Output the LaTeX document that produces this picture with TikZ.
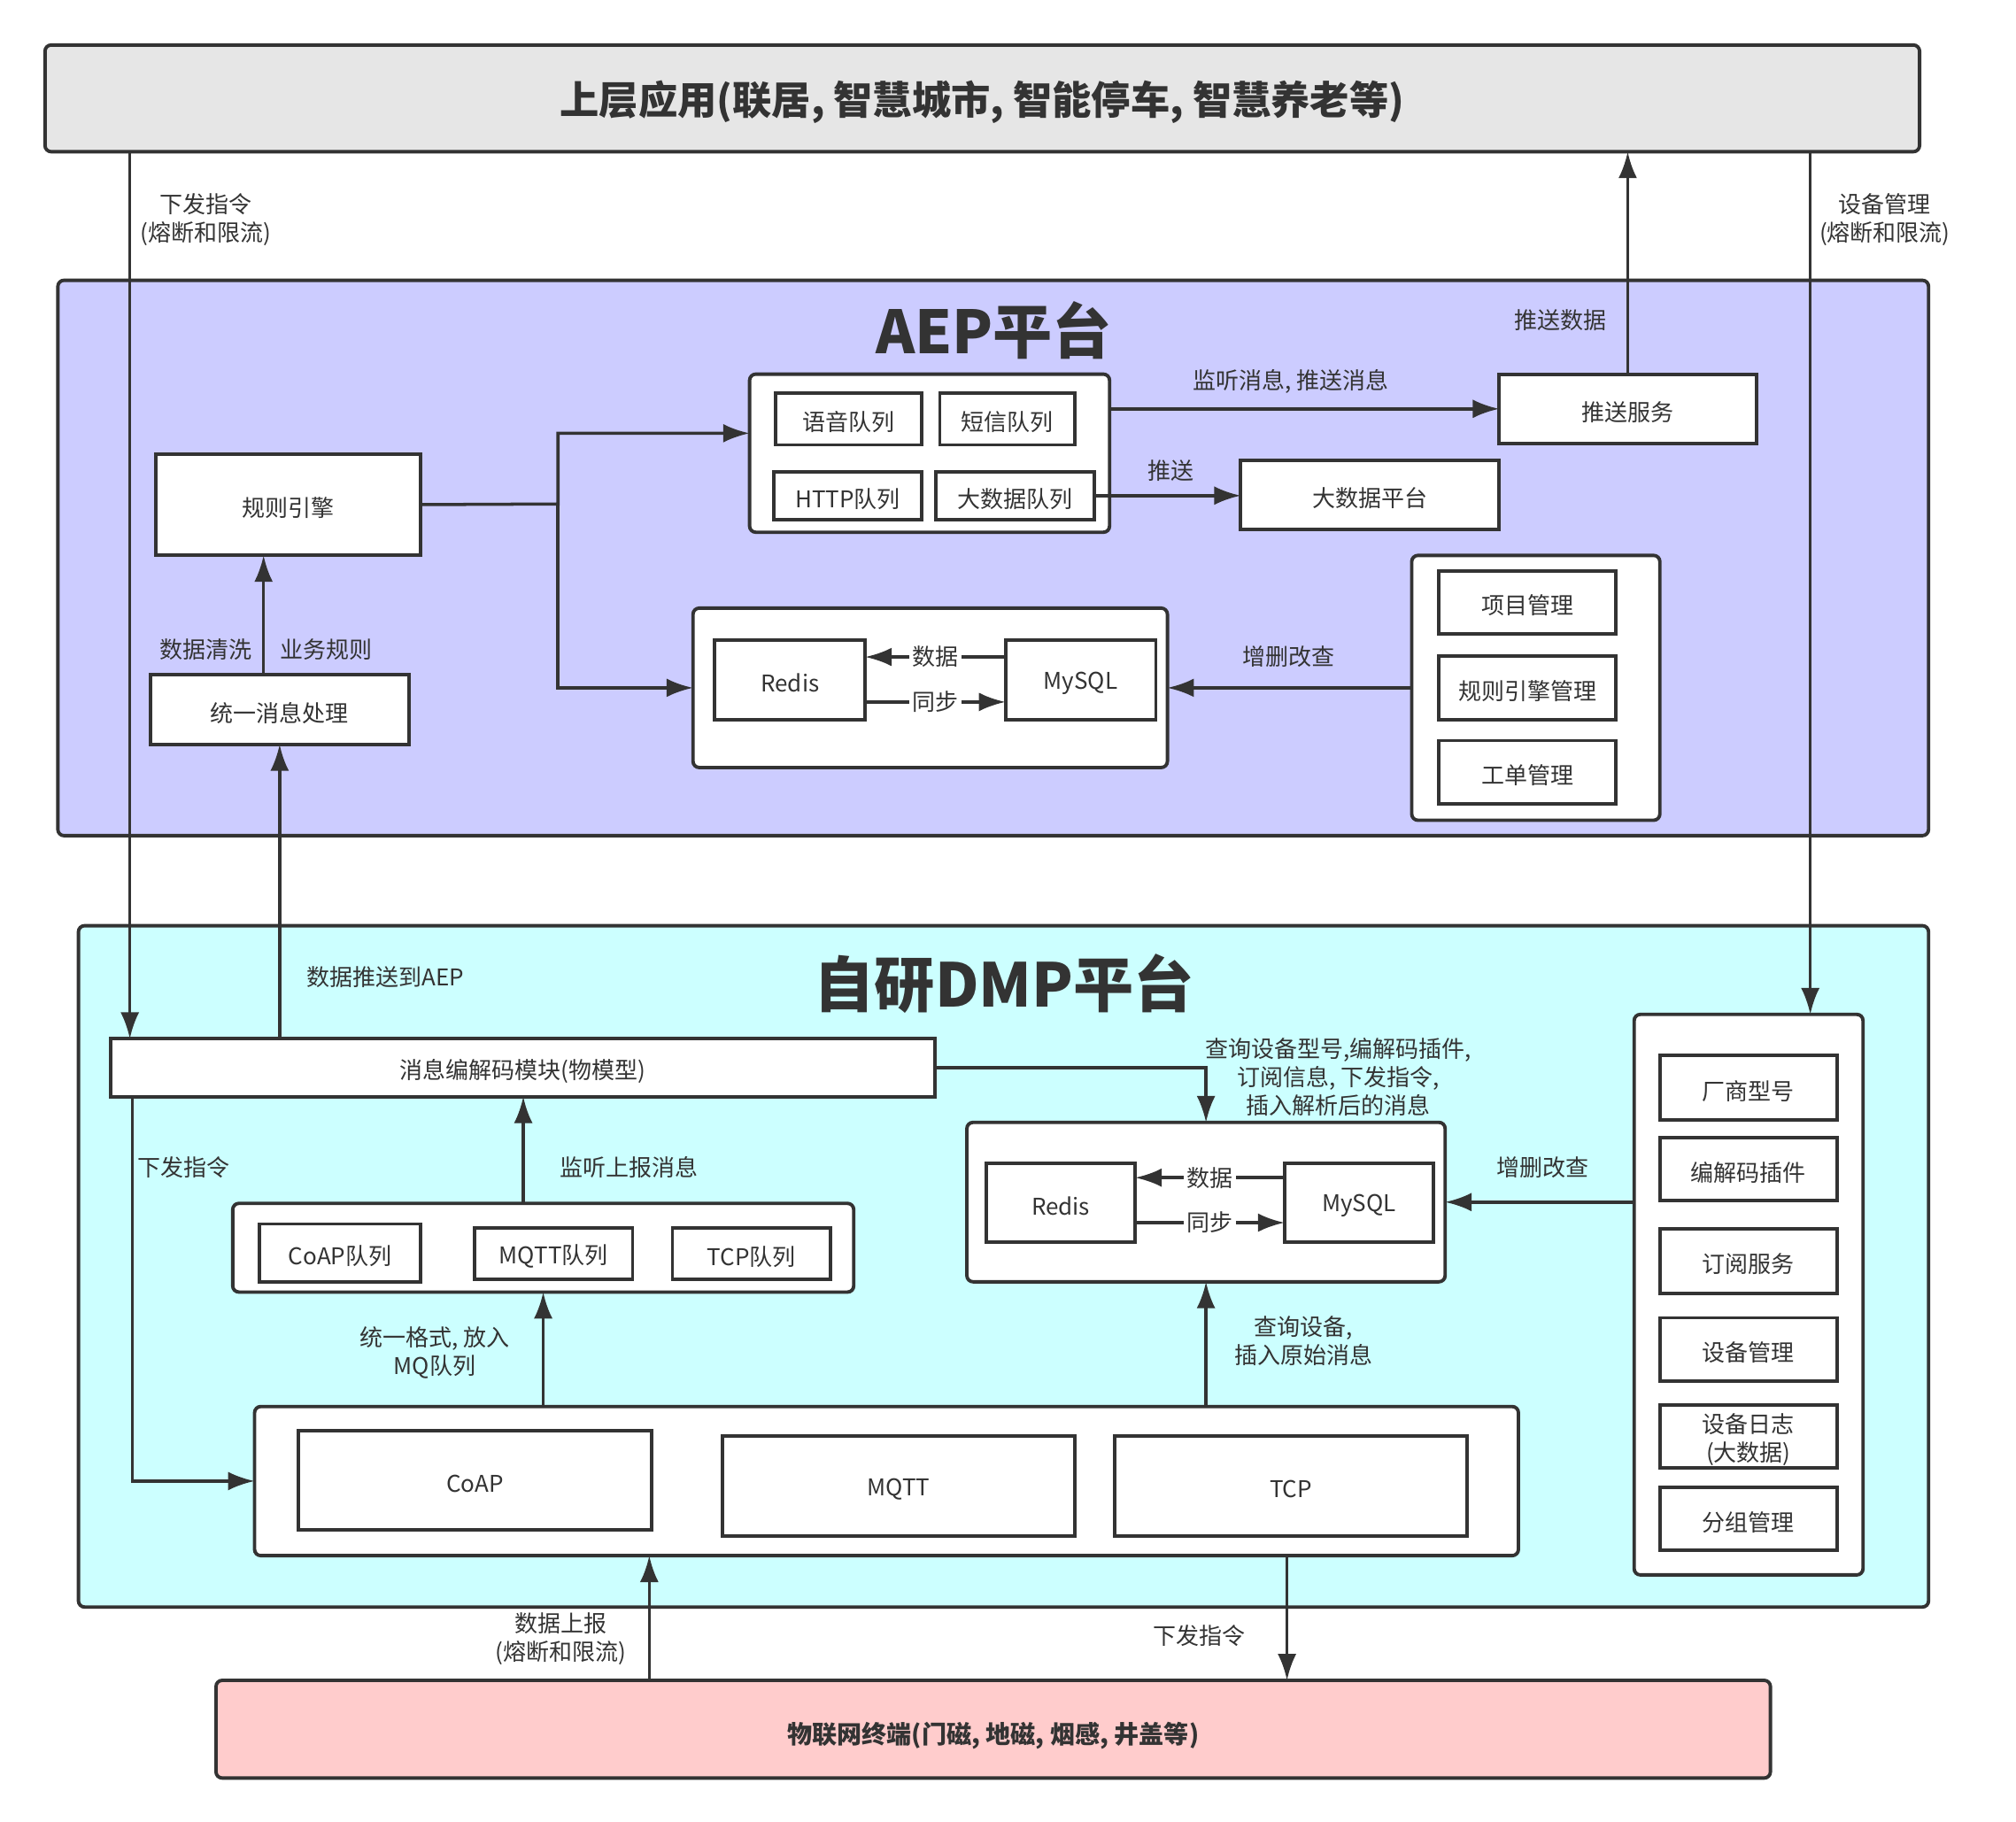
\documentclass[tikz,border=0pt]{standalone}
\usepackage{fontspec}
\setmainfont{Noto Sans CJK SC}
\usetikzlibrary{arrows.meta,fit}

\definecolor{linegray}{HTML}{333333}
\definecolor{appgray}{HTML}{E6E6E6}
\definecolor{aepblue}{HTML}{CCCCFF}
\definecolor{dmpcyan}{HTML}{CCFFFF}
\definecolor{devpink}{HTML}{FFCCCC}

\newcommand{\smalltxt}{\fontsize{7.4pt}{9.1pt}\selectfont}

\tikzset{
	box/.style={draw=linegray,line width=1.1pt,fill=white,inner sep=0pt,outer sep=0pt},
	grp/.style={box,rounded corners=2pt},
	arr/.style={draw=linegray,line width=1pt,-{Latex[length=8.5pt,width=6pt]}},
	lbl/.style={text=linegray,font=\smalltxt,align=center,inner sep=1pt},
	boxtxt/.style={lbl,yshift=-1pt},
}

\begin{document}
\begin{tikzpicture}[x=0.0145217cm,y=-0.0145217cm]
	\useasboundingbox (0,0) rectangle (1568,1417);%same size as the screenshot

	% the three layers
	\node[grp,fill=appgray,fit={(35,35) (1493,118)},
		label={[boxtxt,yshift=-0.3pt,font=\fontsize{12.6pt}{14pt}\bfseries]center:上层应用(联居, 智慧城市, 智能停车, 智慧养老等)}] (app) {};
	\node[grp,fill=aepblue,fit={(45,218) (1500,650)}] (aep) {};
	\node[grp,fill=dmpcyan,fit={(61,720) (1500,1250)}] (dmp) {};
	\node[grp,fill=devpink,fit={(168,1307) (1377,1383)},
		label={[boxtxt,yshift=-1pt,font=\fontsize{8pt}{10pt}\bfseries]center:物联网终端(门磁, 地磁, 烟感, 井盖等)}] (dev) {};

	\node[lbl,font=\fontsize{19.1pt}{22pt}\bfseries] (aeptitle) at (773,257) {AEP平台};
	\node[lbl,font=\fontsize{19.4pt}{22pt}\bfseries] (dmptitle) at (781,765) {自研DMP平台};

	% AEP
	\node[box,fit={(121,353) (327,432)},label={[boxtxt]center:规则引擎}] (rule) {};
	\node[box,fit={(117,525) (318,579)},label={[boxtxt]center:统一消息处理}] (unify) {};

	\node[grp,fit={(583,291) (863,414)}] (queues) {};
	\node[box,fit={(603,306) (717,346)},label={[boxtxt]center:语音队列}] (voiceq) {};
	\node[box,fit={(731,306) (836,346)},label={[boxtxt]center:短信队列}] (smsq) {};
	\node[box,fit={(602,367) (717,404)},label={[boxtxt]center:HTTP队列}] (httpq) {};
	\node[box,fit={(728,367) (851,404)},label={[boxtxt]center:大数据队列}] (bigq) {};

	\node[box,fit={(1166,291) (1366,345)},label={[boxtxt]center:推送服务}] (push) {};
	\node[box,fit={(965,358) (1166,412)},label={[boxtxt]center:大数据平台}] (bigdata) {};

	\node[grp,fit={(539,473) (908,597)}] (storeA) {};
	\node[box,fit={(556,498) (673,560)},label={[boxtxt]center:Redis}] (redisA) {};
	\node[box,fit={(782,498) (899,560)},label={[boxtxt]center:MySQL}] (mysqlA) {};

	\node[grp,fit={(1098,432) (1291,638)}] (mgmt) {};
	\foreach \name/\ya/\yb/\txt in {proj/444/493/项目管理,rulemg/510/560/规则引擎管理,order/576/625/工单管理}{
		\node[box,fit={(1119,\ya) (1257,\yb)},label={[boxtxt]center:\txt}] (\name) {};
	}

	% DMP
	\node[box,fit={(86,808) (727,853)},label={[boxtxt]center:消息编解码模块(物模型)}] (codec) {};

	\node[grp,fit={(181,936) (664,1005)}] (mq) {};
	\node[box,fit={(202,952) (327,997)},label={[boxtxt]center:CoAP队列}] (coapq) {};
	\node[box,fit={(369,955) (492,995)},label={[boxtxt]center:MQTT队列}] (mqttq) {};
	\node[box,fit={(523,955) (646,995)},label={[boxtxt]center:TCP队列}] (tcpq) {};

	\node[grp,fit={(752,873) (1124,997)}] (storeB) {};
	\node[box,fit={(767,905) (883,966)},label={[boxtxt]center:Redis}] (redisB) {};
	\node[box,fit={(999,905) (1115,966)},label={[boxtxt]center:MySQL}] (mysqlB) {};

	\node[grp,fit={(198,1094) (1181,1210)}] (proto) {};
	\node[box,fit={(232,1113) (507,1190)},label={[boxtxt]center:CoAP}] (coap) {};
	\node[box,fit={(562,1117) (836,1195)},label={[boxtxt]center:MQTT}] (mqtt) {};
	\node[box,fit={(867,1117) (1141,1195)},label={[boxtxt]center:TCP}] (tcp) {};

	\node[grp,fit={(1271,789) (1449,1225)}] (panel) {};
	\foreach \name/\ya/\yb/\txt in {vendor/821/871/厂商型号,plugin/885/934/编解码插件,
		subs/956/1006/订阅服务,devmg/1025/1074/设备管理,devlog/1093/1142/{设备日志\\(大数据)},
		group/1157/1206/分组管理}{
		\node[box,fit={(1291,\ya) (1429,\yb)},label={[boxtxt]center:\txt}] (\name) {};
	}

	% connectors
	\draw[arr] (101,0 |- app.south) -- (101,0 |- codec.north);
	\draw[arr] (1408,0 |- app.south) -- (1408,0 |- panel.north);
	\draw[arr] (push.north) -- (push.north |- app.south);

	\coordinate (split) at (434,392);
	\draw[arr] (rule.east) -- (split) |- (queues.west |- 0,337);
	\draw[arr] (split) |- (storeA.west);
	\draw[arr] (205,0 |- unify.north) -- (205,0 |- rule.south);
	\draw[arr] (queues.east |- push.west) -- (push.west);
	\draw[arr] (bigq.east) -- (bigq.east -| bigdata.west);
	\draw[arr] (mgmt.west) -- (mgmt.west -| storeA.east);
	\draw[arr] (mysqlA.west |- 0,511) -- node[lbl,fill=white] (dataA) {数据} (redisA.east |- 0,511);
	\draw[arr] (redisA.east |- 0,546) -- node[lbl,fill=white] (syncA) {同步} (mysqlA.west |- 0,546);

	\draw[arr] (unify.south |- codec.north) -- (unify.south);
	\draw[arr] (codec.east) -| (storeB.north);
	\draw[arr] (103,0 |- codec.south) |- (proto.west);
	\draw[arr] (407,0 |- mq.north) -- (407,0 |- codec.south);
	\draw[arr] (mq.south |- proto.north) -- (mq.south);
	\draw[arr] (storeB.south |- proto.north) -- (storeB.south);
	\draw[arr] (storeB.east -| panel.west) -- (storeB.east);
	\draw[arr] (mysqlB.west |- 0,916) -- node[lbl,fill=white] (dataB) {数据} (redisB.east |- 0,916);
	\draw[arr] (redisB.east |- 0,951) -- node[lbl,fill=white] (syncB) {同步} (mysqlB.west |- 0,951);
	\draw[arr] (505,0 |- dev.north) -- (505,0 |- proto.south);
	\draw[arr] (1001,0 |- proto.south) -- (1001,0 |- dev.north);

	% labels
	\node[lbl] (l1) at (160,171) {下发指令\\(熔断和限流)};
	\node[lbl] (l2) at (1466,171) {设备管理\\(熔断和限流)};
	\node[lbl] (l3) at (1214,249) {推送数据};
	\node[lbl] (l4) at (1004,297) {监听消息, 推送消息};
	\node[lbl] (l5) at (911,366) {推送};
	\node[lbl] (l6) at (160,505) {数据清洗};
	\node[lbl] (l7) at (254,505) {业务规则};
	\node[lbl] (l8) at (1002,511) {增删改查};
	\node[lbl] (l9) at (300,760) {数据推送到AEP};
	\node[lbl] (l10) at (1041,838) {查询设备型号,编解码插件,\\订阅信息, 下发指令,\\插入解析后的消息};
	\node[lbl] (l11) at (143,908) {下发指令};
	\node[lbl] (l12) at (489,908) {监听上报消息};
	\node[lbl] (l13) at (1200,908) {增删改查};
	\node[lbl] (l14) at (338,1052) {统一格式, 放入\\MQ队列};
	\node[lbl] (l15) at (1014,1043) {查询设备,\\插入原始消息};
	\node[lbl] (l16) at (436,1275) {数据上报\\(熔断和限流)};
	\node[lbl] (l17) at (933,1272) {下发指令};
\end{tikzpicture}
\end{document}
